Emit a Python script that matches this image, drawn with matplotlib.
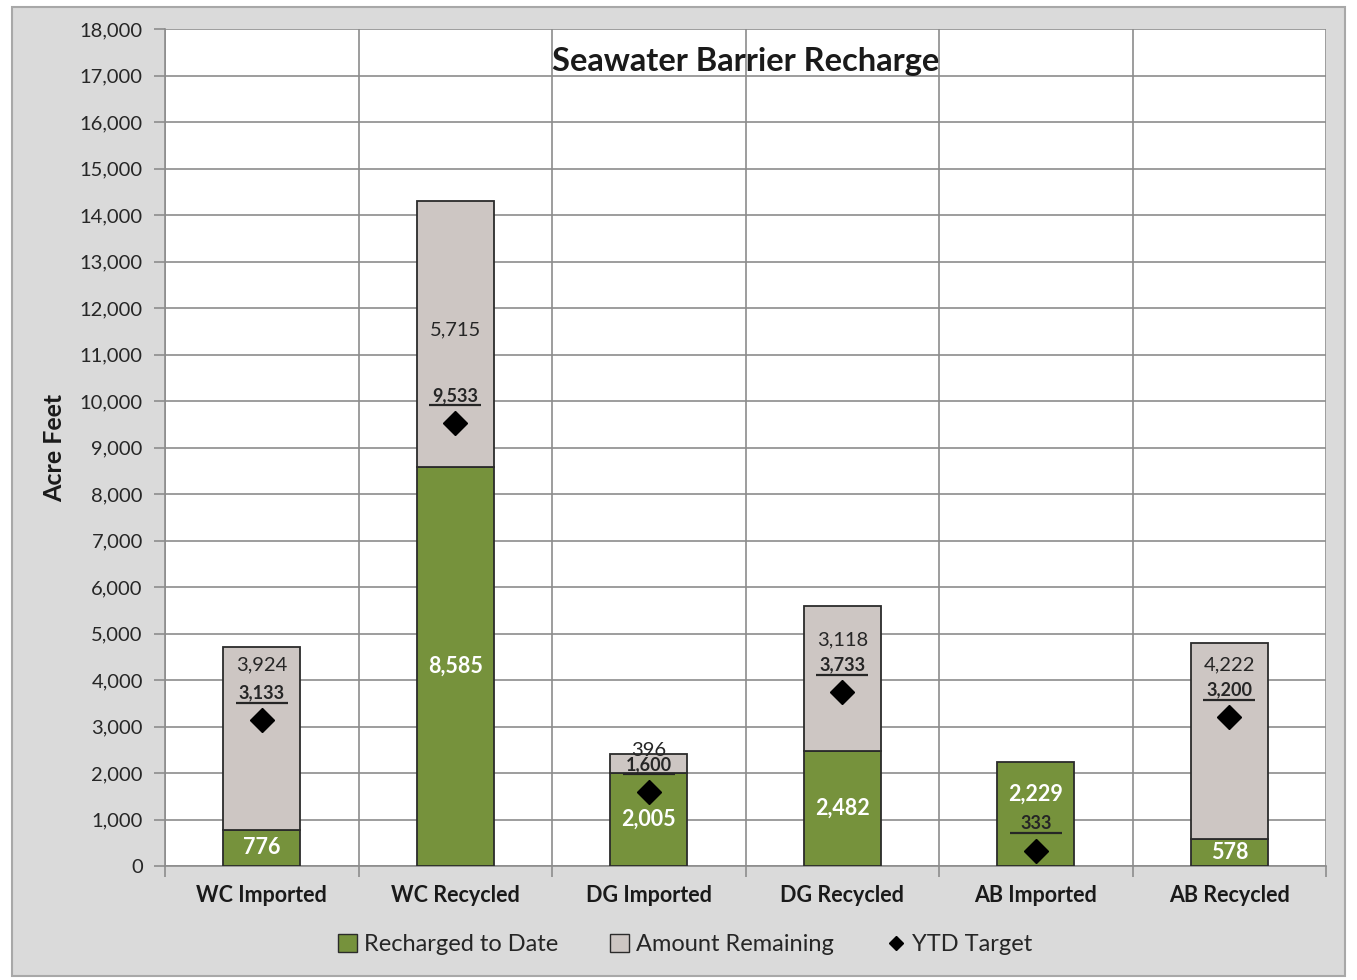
import matplotlib
matplotlib.use("Agg")
import matplotlib.pyplot as plt
import matplotlib.transforms as mtransforms
from matplotlib.patches import Rectangle, Patch
from matplotlib.lines import Line2D
import numpy as np

categories = ["WC Imported", "WC Recycled", "DG Imported", "DG Recycled", "AB Imported", "AB Recycled"]
recharged = [776, 8585, 2005, 2482, 2229, 578]
remaining = [3924, 5715, 396, 3118, 0, 4222]
ytd_target = [3133, 9533, 1600, 3733, 333, 3200]
# label anchor heights (data units) as laid out in the original chart
recharged_label_y = [388, 4292, 1002, 1241, 1548, 289]
remaining_label_y = [4322, 11524, 2490, 4860, None, 4322]

y_ticks = list(range(0, 18001, 1000))

GREEN = "#76923c"
GREY = "#cdc6c3"
EDGE = "#2b2b2b"
FIGBG = "#dadada"
FONT = ["Lato", "DejaVu Sans"]

plt.rcParams["font.family"] = FONT

fig = plt.figure(figsize=(13.57, 9.80), dpi=100, facecolor="white")
# outer chart frame
fig.patches.append(Rectangle((0.009, 0.004), 0.982, 0.989, transform=fig.transFigure,
                             facecolor=FIGBG, edgecolor="#a8a8a8", linewidth=1.5, zorder=-5))

ax = fig.add_axes([0.1216, 0.1163, 0.8556, 0.8541])
ax.set_facecolor("white")

x = np.arange(len(categories))
w = 0.4
ax.bar(x, recharged, width=w, color=GREEN, edgecolor=EDGE, linewidth=1.3, zorder=3)
rem_bars = ax.bar(x, remaining, width=w, bottom=recharged, color=GREY, edgecolor=EDGE,
                  linewidth=1.3, zorder=3)
for i, r in enumerate(remaining):
    if r == 0:
        rem_bars[i].set_visible(False)

ax.plot(x, ytd_target, linestyle="none", marker="D", markersize=12, color="black", zorder=5)

# labels
for i in range(len(categories)):
    ax.text(x[i], recharged_label_y[i], f"{recharged[i]:,}", ha="center", va="center",
            color="white", fontsize=15.5, fontweight="bold", zorder=6)
    if remaining_label_y[i] is not None:
        ax.text(x[i], remaining_label_y[i], f"{remaining[i]:,}", ha="center", va="center",
                color="#262626", fontsize=14.5, zorder=6)
    tr = mtransforms.offset_copy(ax.transData, fig=fig, x=0, y=13.5, units="points")
    ax.text(x[i], ytd_target[i], f"{ytd_target[i]:,}", ha="center", va="bottom",
            color="#262626", fontsize=13, fontweight="bold", transform=tr, zorder=6)
    tr2 = mtransforms.offset_copy(ax.transData, fig=fig, x=0, y=12.5, units="points")
    ax.plot([x[i]], [ytd_target[i]], marker="_", markersize=38, markeredgewidth=1.6,
            color="#262626", transform=tr2, zorder=6)

ax.set_xlim(-0.5, len(categories) - 0.5)
ax.set_ylim(0, 18000)
ax.set_yticks(y_ticks)
ax.set_yticklabels([f"{v:,}" for v in y_ticks], fontsize=14.5, color="#262626")
ax.set_xticks(x)
ax.set_xticklabels(categories, fontsize=15.5, fontweight="bold", color="#1a1a1a")
ax.tick_params(axis="x", length=0, pad=14)
ax.set_xticks(np.arange(-0.5, len(categories)), minor=True)
ax.tick_params(axis="x", which="minor", length=8, color="#8c8c8c", width=1.2)
ax.tick_params(axis="y", length=8, color="#8c8c8c", width=1.2, pad=8)

ax.grid(axis="y", color="#8c8c8c", linewidth=1.2, zorder=0)
ax.grid(axis="x", which="minor", color="#8c8c8c", linewidth=1.2, zorder=0)
ax.set_axisbelow(True)
for s in ["top", "right"]:
    ax.spines[s].set_visible(False)
for s in ["left", "bottom"]:
    ax.spines[s].set_color("#8c8c8c")
    ax.spines[s].set_linewidth(1.2)

ax.set_ylabel("Acre Feet", fontsize=18, fontweight="bold", color="#1a1a1a", labelpad=10)
ax.text(0.5, 0.961, "Seawater Barrier Recharge", transform=ax.transAxes, ha="center",
        va="center", fontsize=23.5, fontweight="bold", color="#1a1a1a", zorder=7)

handles = [
    Patch(facecolor=GREEN, edgecolor=EDGE, linewidth=1.0, label="Recharged to Date"),
    Patch(facecolor=GREY, edgecolor=EDGE, linewidth=1.0, label="Amount Remaining"),
    Line2D([], [], linestyle="none", marker="D", markersize=7, color="black", label="YTD Target"),
]
fig.legend(handles=handles, loc="center", bbox_to_anchor=(0.505, 0.036), ncol=3,
           frameon=False, fontsize=17, handlelength=0.8, handleheight=0.8,
           handletextpad=0.3, columnspacing=2.2, labelcolor="#262626")

fig.savefig("out.png", dpi=100, facecolor=fig.get_facecolor())
